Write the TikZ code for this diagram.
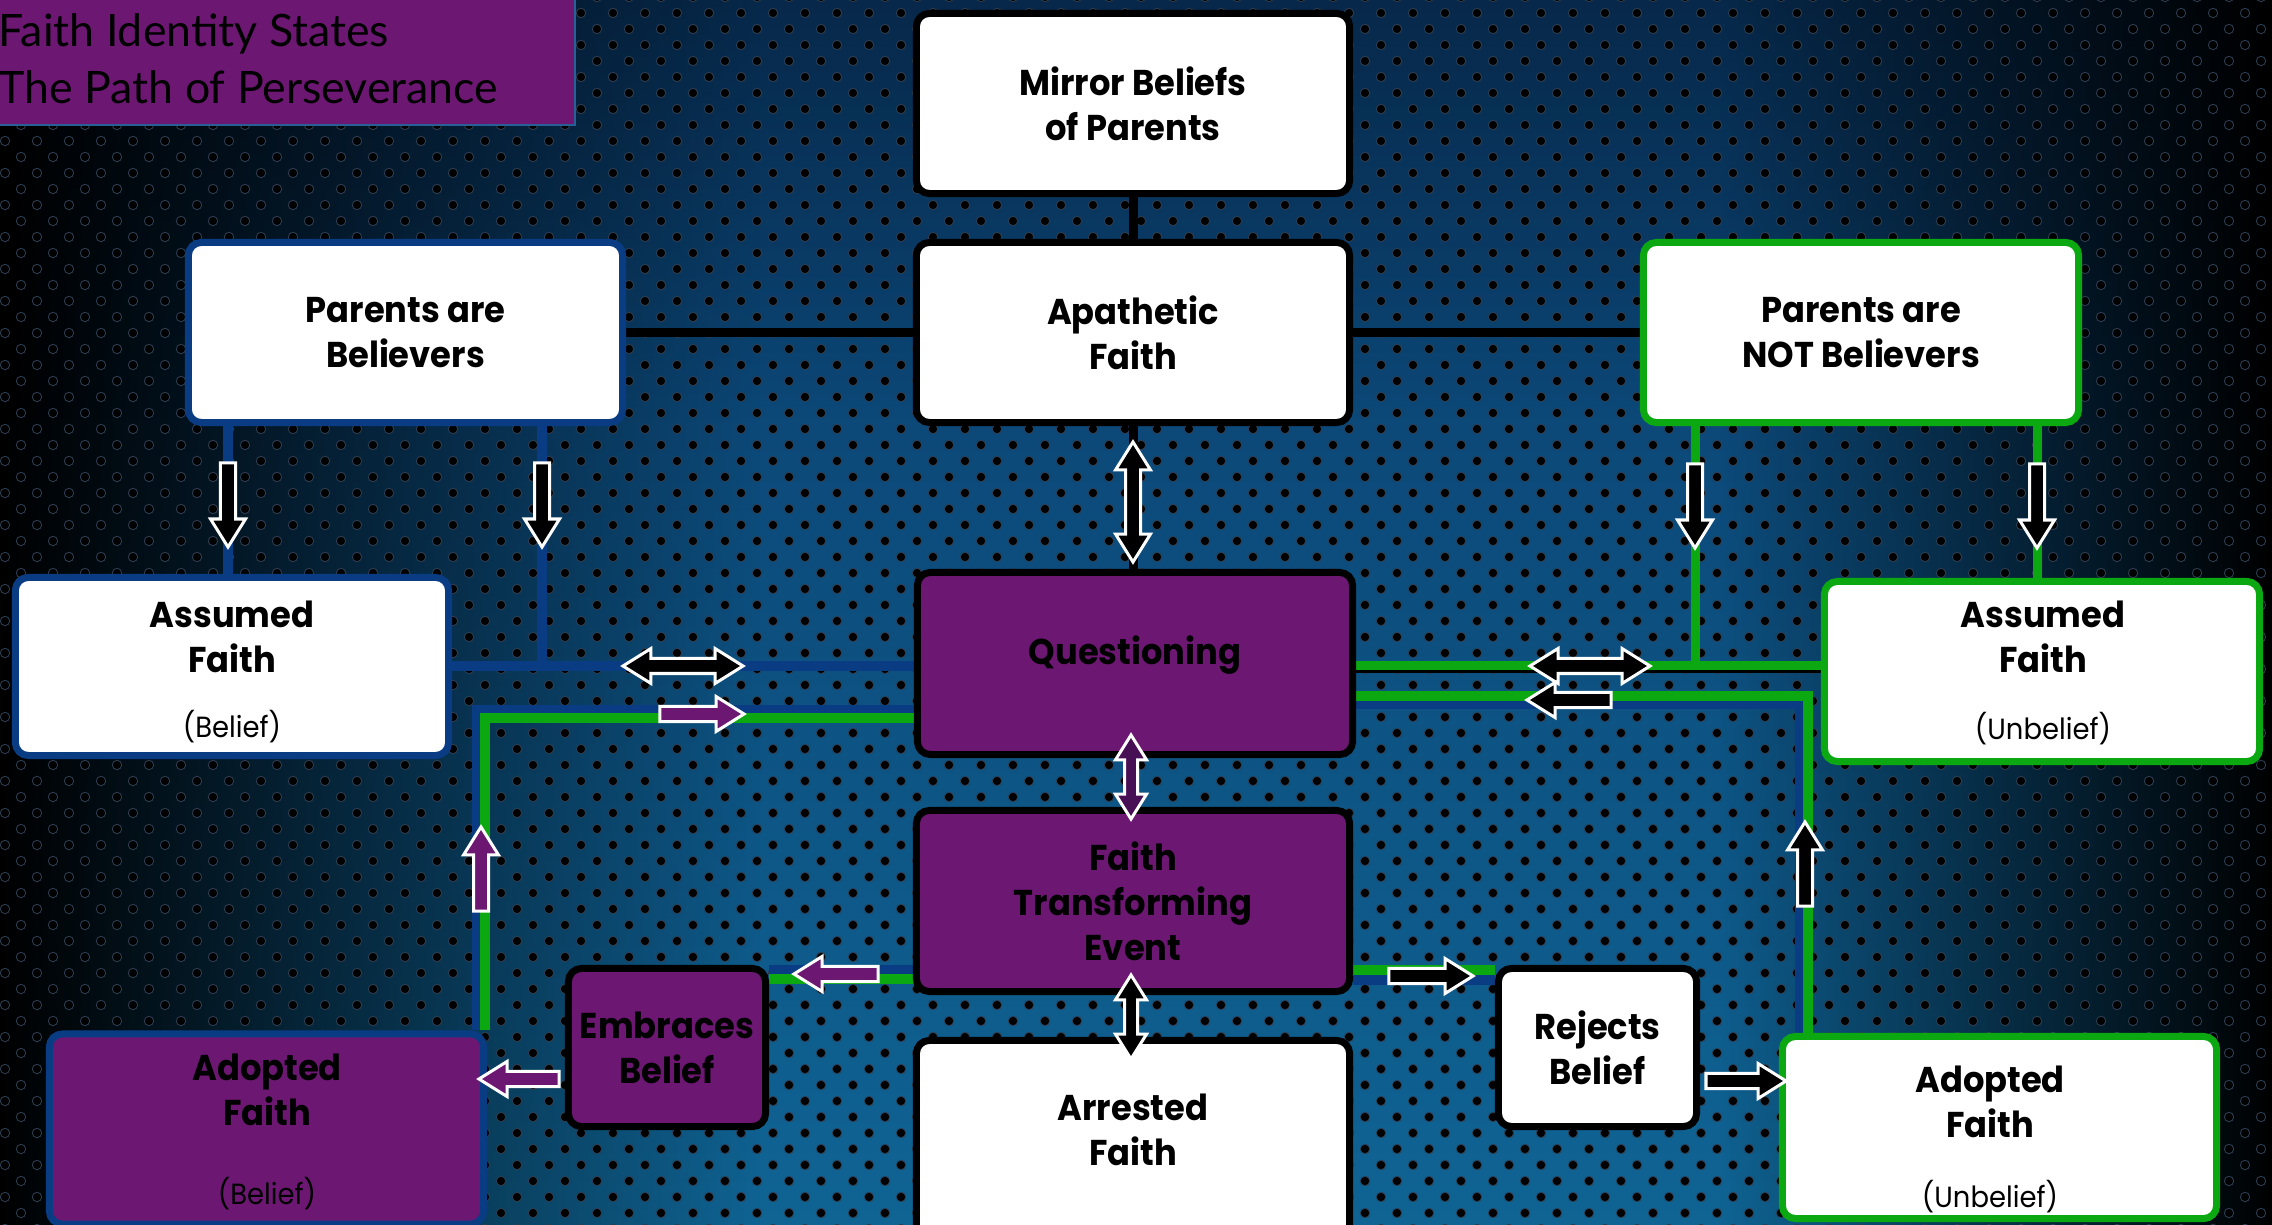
\documentclass[tikz,border=0pt]{standalone}
\usepackage{fontspec}
\setmainfont{Poppins}[FakeStretch=0.94]
\newfontfamily\titlefont{Lato}
\usetikzlibrary{shapes.arrows,fadings}
\definecolor{fpurple}{RGB}{108,24,114}
\definecolor{dpurple}{RGB}{72,16,84}
\definecolor{fblue}{RGB}{10,60,132}
\definecolor{fgreen}{RGB}{12,168,18}
\definecolor{bgtop}{RGB}{10,58,106}
\definecolor{bgbot}{RGB}{15,100,148}
\definecolor{dotrim}{RGB}{45,62,82}
\definecolor{tline}{RGB}{40,95,150}
\tikzfading[name=fadeL, left color=transparent!0, right color=transparent!100]
\tikzfading[name=fadeR, left color=transparent!100, right color=transparent!0]
\tikzfading[name=fadeT, top color=transparent!0, bottom color=transparent!100]
\pgfdeclarelayer{bglayer}
\pgfdeclarelayer{lineslayer}
\pgfdeclarelayer{fglayer}
\pgfsetlayers{bglayer,lineslayer,main,fglayer}
\begin{document}
\begin{tikzpicture}[x=0.01cm,y=-0.01cm,
  bx/.style={rectangle, rounded corners=0.13cm, line width=0.07cm, inner sep=0pt},
  wbx/.style={bx, fill=white},
  pbx/.style={bx, fill=fpurple},
  btxt/.style={font=\fontsize{10.2pt}{12.8pt}\selectfont\bfseries, align=center, inner sep=0pt, text=black},
  stxt/.style={font=\fontsize{8.3pt}{10pt}\selectfont, inner sep=0pt, text=black},
  ttxt/.style={font=\titlefont\fontsize{12.7pt}{16pt}\selectfont, inner sep=0pt, text=black},
  blueln/.style={draw=fblue, line width=0.10cm},
  greenln/.style={draw=fgreen, line width=0.09cm},
  blackln/.style={draw=black, line width=0.09cm},
  thinblack/.style={draw=black, line width=0.03cm},
  wideblue/.style={draw=fblue, line width=0.18cm},
  narrowgreen/.style={draw=fgreen, line width=0.10cm},
  sarr/.style={single arrow, draw=white, line width=0.03cm, inner sep=0.06cm,
    single arrow head extend=0.10cm, single arrow tip angle=64, minimum height=0.84cm},
  darr/.style={double arrow, draw=white, line width=0.03cm, inner sep=0.06cm,
    double arrow head extend=0.10cm, double arrow tip angle=64, minimum height=1.2cm},
  smalldarr/.style={darr, minimum height=0.84cm, inner sep=0.05cm, double arrow head extend=0.09cm},
  dotstyle/.style={fill=black, draw=dotrim, line width=0.25pt}
]
\useasboundingbox (0,0) rectangle (2272,1225);
% background
\begin{pgfonlayer}{bglayer}
\shade[top color=bgtop, bottom color=bgbot] (0,0) rectangle (2272,1225);
\fill[black, path fading=fadeL] (0,0) rectangle (760,1225);
\fill[black, path fading=fadeR] (1720,0) rectangle (2272,1225);
\fill[black, opacity=0.3, path fading=fadeT] (0,0) rectangle (2272,420);
\foreach \k in {-1,...,38}{
  \path[dotstyle] \foreach \c in {0,...,71}{(5+32*\c,13+32*\k) circle[radius=0.047cm] (21+32*\c,29+32*\k) circle[radius=0.047cm]};
}
\end{pgfonlayer}

% connector coordinates
\coordinate (jA) at (228,666.5);
\coordinate (jL) at (542,666.5);
\coordinate (cL) at (481,714);
\coordinate (cG) at (485,718);
\coordinate (eB) at (700,970);
\coordinate (eG) at (700,979);
\coordinate (rG1) at (1450,970);
\coordinate (rB1) at (1450,980);
\coordinate (jR) at (1695,666);
\coordinate (jK) at (1695,671.5);
\coordinate (jB) at (2037,500);
\coordinate (rB) at (1804,700);
\coordinate (rG) at (1808,696);

% boxes
\node[bx, fill=fpurple, draw=tline, line width=0.5pt, rounded corners=0pt, minimum width=5.85cm, minimum height=1.35cm] (tbox) at (282.5,57.5) {};
\node[ttxt, anchor=base west] (t1) at (-2,47) {Faith Identity States};
\node[ttxt, anchor=base west] (t2) at (-2,104) {The Path of Perseverance};

\node[wbx, draw=black, minimum width=4.33cm, minimum height=1.80cm, btxt] (mirror) at (1133,103.5) {Mirror Beliefs\\of Parents};
\node[wbx, draw=black, minimum width=4.33cm, minimum height=1.80cm, btxt] (apath) at (1133,332.5) {Apathetic\\Faith};
\node[wbx, draw=fblue, minimum width=4.34cm, minimum height=1.80cm, btxt] (pab) at (405.5,332.5) {Parents are\\Believers};
\node[wbx, draw=fgreen, minimum width=4.35cm, minimum height=1.80cm, btxt] (pnb) at (1861,332.5) {Parents are\\NOT Believers};
\node[wbx, draw=fblue, minimum width=4.33cm, minimum height=1.78cm] (afb) at (232,666.5) {};
\node[wbx, draw=fgreen, minimum width=4.35cm, minimum height=1.80cm] (afu) at (2042,671.5) {};
\node[pbx, draw=black, minimum width=4.35cm, minimum height=1.82cm] (quest) at (1135,663.5) {};
\node[pbx, draw=black, minimum width=4.33cm, minimum height=1.81cm, btxt] (fte) at (1133,901) {Faith\\Transforming\\Event};
\node[wbx, draw=black, minimum width=4.33cm, minimum height=2.01cm] (arr) at (1133,1141) {};
\node[pbx, draw=black, minimum width=1.97cm, minimum height=1.58cm, btxt] (emb) at (667,1047.5) {Embraces\\Belief};
\node[wbx, draw=black, minimum width=1.98cm, minimum height=1.58cm, btxt] (rej) at (1597.5,1047.5) {Rejects\\Belief};
\node[pbx, draw=fblue, minimum width=4.34cm, minimum height=1.90cm] (adb) at (266.5,1129) {};
\node[wbx, draw=fgreen, minimum width=4.34cm, minimum height=1.82cm] (adu) at (1999.5,1127.5) {};

% texts of boxes whose text is not centred
\node[btxt] (afbT) at (232,637) {Assumed\\Faith};
\node[stxt] (afbS) at (232,727) {(Belief)};
\node[btxt] (afuT) at (2043,637) {Assumed\\Faith};
\node[stxt] (afuS) at (2043,729) {(Unbelief)};
\node[btxt] (questT) at (1135,655) {Questioning};
\node[btxt] (arrT) at (1133,1130) {Arrested\\Faith};
\node[btxt] (adbT) at (267,1090) {Adopted\\Faith};
\node[stxt] (adbS) at (267,1194) {(Belief)};
\node[btxt] (aduT) at (1990,1102) {Adopted\\Faith};
\node[stxt] (aduS) at (1990,1197) {(Unbelief)};

% connectors
\begin{pgfonlayer}{lineslayer}
\draw[blackln] (mirror.south) -- (apath.north);
\draw[blackln] (pab.east) -- (apath.west);
\draw[blackln] (apath.east) -- (pnb.west);
\draw[blackln] (apath.south) -- (apath.south |- quest.north);
\draw[blueln] (pab.south -| jA) -- (afb.north -| jA);
\draw[blueln] (pab.south -| jL) -- (jL);
\draw[blueln] (afb.east) -- (afb.east -| quest.west);
\draw[wideblue] (adb.north -| cL) -- (cL) -- (cL -| quest.west);
\draw[narrowgreen] (adb.north -| cG) -- (cG) -- (cG -| quest.west);
\draw[blueln] (fte.west |- eB) -- (emb.east |- eB);
\draw[narrowgreen] (fte.west |- eG) -- (emb.east |- eG);
\draw[narrowgreen] (fte.east |- rG1) -- (rej.west |- rG1);
\draw[blueln] (fte.east |- rB1) -- (rej.west |- rB1);
\draw[thinblack] (quest.east |- jK) -- (afu.west |- jK);
\draw[greenln] (quest.east |- jR) -- (afu.west |- jR);
\draw[greenln] (pnb.south -| jR) -- (jR);
\draw[greenln] (pnb.south -| jB) -- (afu.north -| jB);
\draw[wideblue] (quest.east |- rB) -- (rB) -- (adu.north -| rB);
\draw[narrowgreen] (quest.east |- rG) -- (rG) -- (adu.north -| rG);
\end{pgfonlayer}

% block arrows
\begin{pgfonlayer}{fglayer}
\node[sarr, fill=black, rotate=-90] (a1) at (228,499) {};
\node[sarr, fill=black, rotate=-90] (a2) at (542,499) {};
\node[sarr, fill=black, rotate=-90] (a3) at (1695,500) {};
\node[sarr, fill=black, rotate=-90] (a4) at (2037,500) {};
\node[darr, fill=black] (a5) at (683,666) {};
\node[sarr, fill=fpurple] (a6) at (696,714) {};
\node[sarr, fill=fpurple, rotate=90] (a7) at (481,875) {};
\node[sarr, fill=fpurple, rotate=180] (a8) at (842,974) {};
\node[sarr, fill=fpurple, rotate=180, minimum height=0.80cm] (a9) at (525,1079) {};
\node[darr, fill=black] (a10) at (1590,666) {};
\node[sarr, fill=black, rotate=180] (a11) at (1575,700) {};
\node[sarr, fill=black, rotate=90] (a12) at (1805,870) {};
\node[sarr, fill=black] (a13) at (1425,976) {};
\node[sarr, fill=black, minimum height=0.80cm] (a14) at (1740,1081) {};
\node[darr, fill=black, rotate=90] (a15) at (1133,502) {};
\node[smalldarr, fill=dpurple, rotate=90] (a16) at (1131,777) {};
\node[smalldarr, fill=black, rotate=90] (a17) at (1131,1017) {};
\end{pgfonlayer}
\end{tikzpicture}
\end{document}
